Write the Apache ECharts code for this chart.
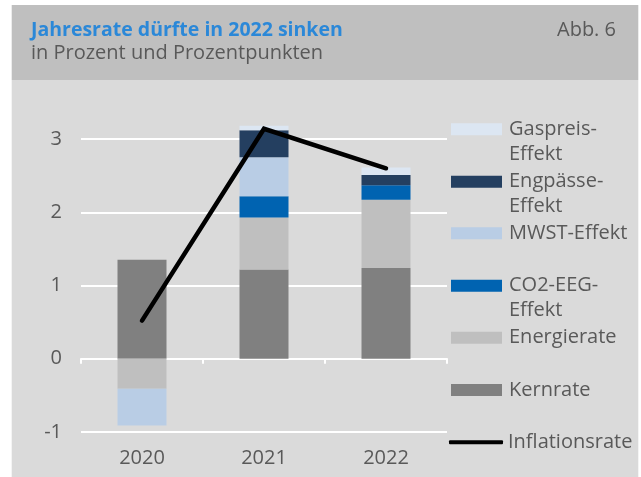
<!DOCTYPE html>
<html>
<head>
<meta charset="utf-8">
<script src="https://cdn.jsdelivr.net/npm/echarts@6/dist/echarts.min.js"></script>
<style>
html,body{margin:0;padding:0;background:#fff;}
#c{width:641px;height:477px;}
</style>
</head>
<body>
<div id="c"></div>
<script>
// ---- data ----
const categories = ['2020', '2021', '2022'];
const kernrate     = [1.35, 1.22, 1.24];
const energierate  = [-0.41, 0.71, 0.93];
const co2EEG       = [0, 0.29, 0.20];
const mwst         = [-0.50, 0.53, 0];
const engpaesse    = [0, 0.37, 0.14];
const gaspreis     = [0, 0.06, 0.10];
const inflation    = [0.52, 3.14, 2.60];
const yTicks       = [-1, 0, 1, 2, 3];

const FONT = '"Open Sans", "Noto Sans", sans-serif';
const TXT = '#595959';

const chart = echarts.init(document.getElementById('c'), null, {renderer: 'canvas'});

function barSeries(name, data, color) {
  return {
    name: name, type: 'bar', stack: 'total', data: data,
    barWidth: 49, clip: false,
    itemStyle: {color: color},
    emphasis: {disabled: true}
  };
}

const wrapped = {
  'Gaspreis-Effekt': '\nGaspreis-\nEffekt',
  'Engpässe-Effekt': '\nEngpässe-\nEffekt',
  'CO2-EEG-Effekt': '\nCO2-EEG-\nEffekt'
};

function legendItem(name, top, isLine) {
  return {
    data: [name],
    left: isLine ? 449 : 451,
    top: top,
    padding: 0,
    orient: 'vertical',
    itemWidth: isLine ? 54 : 51,
    itemHeight: isLine ? 4 : 12,
    icon: isLine ? 'roundRect' : 'rect',
    selectedMode: false,
    formatter: function (n) { return wrapped[n] || n; },
    textStyle: {
      fontFamily: FONT, fontSize: 20, color: TXT, lineHeight: 25,
      padding: [0, 0, 0, isLine ? 0 : 2]
    }
  };
}

const option = {
  animation: false,
  textStyle: {fontFamily: FONT},
  graphic: [
    {type: 'rect', z: -10, shape: {x: 11.7, y: 5, width: 626.6, height: 75}, style: {fill: '#BFBFBF'}, silent: true},
    {type: 'rect', z: -10, shape: {x: 11.7, y: 80, width: 626.6, height: 397}, style: {fill: '#DADADA'}, silent: true}
  ],
  title: [
    {
      text: 'Jahresrate dürfte in 2022 sinken',
      subtext: 'in Prozent und Prozentpunkten',
      left: 26, top: 15, itemGap: 3,
      textStyle: {fontFamily: FONT, fontSize: 19.5, fontWeight: 'bold', color: '#2B88D8'},
      subtextStyle: {fontFamily: FONT, fontSize: 20, color: TXT}
    },
    {
      text: 'Abb. 6',
      right: 20, top: 15,
      textStyle: {fontFamily: FONT, fontSize: 20, fontWeight: 'normal', color: TXT}
    }
  ],
  legend: [
    legendItem('Gaspreis-Effekt', 91.7),
    legendItem('Engpässe-Effekt', 144.2),
    legendItem('MWST-Effekt', 220.8),
    legendItem('CO2-EEG-Effekt', 248.2),
    legendItem('Energierate', 325.2),
    legendItem('Kernrate', 377.5),
    legendItem('Inflationsrate', 429.8, true)
  ],
  grid: {left: 81, right: 194, top: 139, bottom: 45, containLabel: false},
  xAxis: [
    {
      type: 'category', data: categories, position: 'bottom',
      axisLine: {show: false, onZero: false},
      axisTick: {show: false},
      axisLabel: {fontFamily: FONT, fontSize: 20, color: TXT, margin: 16}
    },
    {
      type: 'category', data: categories, position: 'bottom',
      axisLine: {show: true, onZero: true, lineStyle: {color: '#FFFFFF', width: 2}},
      axisTick: {show: true, length: 5, lineStyle: {color: '#FFFFFF', width: 2}},
      axisLabel: {show: false}
    }
  ],
  yAxis: {
    type: 'value', min: yTicks[0], max: yTicks[yTicks.length - 1], interval: 1,
    axisLine: {show: false}, axisTick: {show: false},
    axisLabel: {fontFamily: FONT, fontSize: 20, color: TXT, margin: 19},
    splitLine: {show: true, lineStyle: {color: '#FFFFFF', width: 2}}
  },
  series: [
    barSeries('Kernrate', kernrate, '#808080'),
    barSeries('Energierate', energierate, '#BFBFBF'),
    barSeries('CO2-EEG-Effekt', co2EEG, '#0063B1'),
    barSeries('MWST-Effekt', mwst, '#B9CDE5'),
    barSeries('Engpässe-Effekt', engpaesse, '#243F60'),
    barSeries('Gaspreis-Effekt', gaspreis, '#DCE6F2'),
    {
      name: 'Inflationsrate', type: 'line', data: inflation, xAxisIndex: 0,
      showSymbol: false, symbol: 'none', clip: false, z: 5,
      itemStyle: {color: '#000000'},
      lineStyle: {color: '#000000', width: 4.5, cap: 'round', join: 'miter'},
      emphasis: {disabled: true}
    }
  ]
};
chart.setOption(option);
</script>
</body>
</html>
